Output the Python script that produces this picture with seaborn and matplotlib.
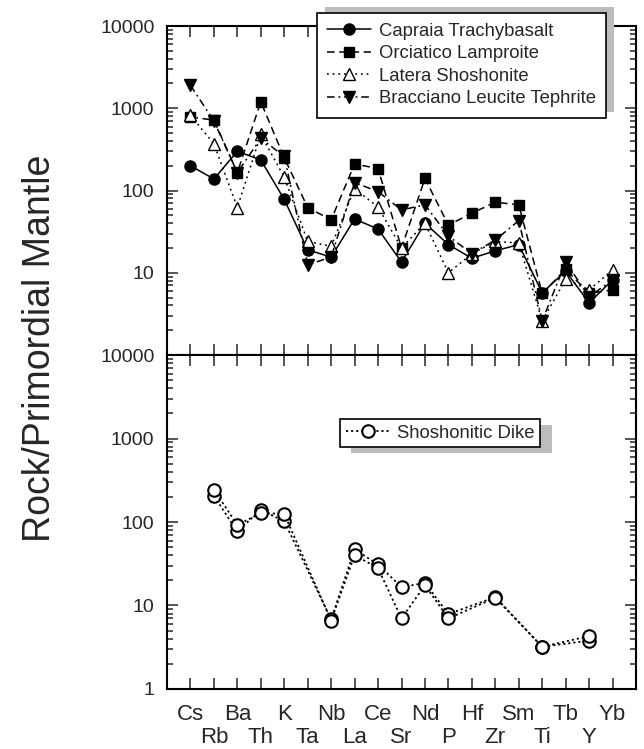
import numpy as np
import pandas as pd
import matplotlib
matplotlib.use('Agg')
import matplotlib.pyplot as plt
from matplotlib.patches import Rectangle
from matplotlib.ticker import FixedLocator, LogLocator, NullFormatter
import seaborn as sns

# element order along the x axis
elements = ['Cs', 'Rb', 'Ba', 'Th', 'K', 'Ta', 'Nb', 'La', 'Ce', 'Sr',
            'Nd', 'P', 'Hf', 'Zr', 'Sm', 'Ti', 'Tb', 'Y', 'Yb']

# top panel, values
capraia = [200, 138, 300, 235, 78, 19, 15.5, 45, 34, 13.5,
           40, 22, 15, 18.5, 22, 5.7, 10.5, 4.3, 8.2]
orciatico = [780, 720, 165, 1200, 250, 62, 44, 210, 185, 20,
             140, 38, 53, 72, 67, 5.6, 11, 5.6, 6.2]
latera = [820, 370, 62, 480, 145, 24, 21, 105, 63, 20,
          40, 10, 17, 24, 23, 2.6, 8.3, 6.2, 10.8]
bracciano = [1900, 700, 165, 430, 260, 12.5, 15.5, 125, 97, 58,
             67, 28, 17, 25, 43, 2.6, 13.5, 5.1, 8.2]

# bottom panel, two dike samples (nan = not analysed)
nan = np.nan
dike_a = [nan, 205, 77, 140, 102, nan, 6.8, 47, 31, 16.6,
          18.6, 7.9, nan, 12.6, nan, 3.2, nan, 3.8, nan]
dike_b = [nan, 245, 92, 128, 125, nan, 6.6, 40, 28, 7.0,
          17.5, 7.0, nan, 12.4, nan, 3.2, nan, 4.3, nan]

sns.set_style('ticks')
plt.rcParams['font.family'] = ['Liberation Sans', 'DejaVu Sans']

fig = plt.figure(figsize=(6.44, 7.49), dpi=100)
ax1 = fig.add_axes([0.2593, 0.52603, 0.7283, 0.43925])
ax2 = fig.add_axes([0.2593, 0.08011, 0.7283, 0.44592])

pos = np.arange(len(elements))


def draw(ax, vals, label, marker, ls, face, ms=8, mew=1.0, lw=1.1):
    d = pd.DataFrame({'x': pos, 'y': vals}).dropna()
    sns.lineplot(data=d, x='x', y='y', ax=ax, color='black', linestyle=ls,
                 marker=marker, markersize=ms, markerfacecolor=face,
                 markeredgecolor='black', markeredgewidth=mew, linewidth=lw,
                 label=label, sort=False, zorder=3)


draw(ax1, capraia, 'Capraia Trachybasalt', 'o', '-', 'black')
draw(ax1, orciatico, 'Orciatico Lamproite', 's', (0, (5, 3)), 'black', ms=7.5)
draw(ax1, latera, 'Latera Shoshonite', '^', (0, (1.2, 2.5)), 'white', ms=8.5)
draw(ax1, bracciano, 'Bracciano Leucite Tephrite', 'v', (0, (5, 2.5, 1.2, 2.5)), 'black', ms=8.5)

draw(ax2, dike_a, 'Shoshonitic Dike', 'o', (0, (1.2, 1.6)), 'white', ms=9, mew=1.5, lw=1.3)
draw(ax2, dike_b, None, 'o', (0, (1.2, 1.6)), 'white', ms=9, mew=1.5, lw=1.3)

for ax in (ax1, ax2):
    ax.set_yscale('log')
    ax.set_ylim(1, 10000)
    ax.set_xlim(-1, len(elements))
    ax.yaxis.set_major_locator(FixedLocator([1, 10, 100, 1000, 10000]))
    ax.yaxis.set_minor_locator(LogLocator(base=10, subs=np.arange(2, 10)))
    ax.yaxis.set_minor_formatter(NullFormatter())
    ax.tick_params(which='both', direction='in', top=True, right=True, width=1.1)
    ax.tick_params(which='major', length=8)
    ax.tick_params(axis='y', which='minor', length=4)
    ax.tick_params(axis='y', labelsize=14, pad=9)
    ax.set_xlabel('')
    ax.set_ylabel('')
    for s in ax.spines.values():
        s.set_linewidth(1.5)
        s.set_color('black')

ax1.set_yticklabels(['', '10', '100', '1000', '10000'])
ax2.set_yticklabels(['1', '10', '100', '1000', '10000'])

ax1.set_xticks(pos)
ax1.set_xticklabels([])

# two staggered rows of element names: even ones on major ticks, odd ones on minor
ax2.set_xticks(pos[::2])
ax2.set_xticklabels(elements[::2])
ax2.set_xticks(pos[1::2], minor=True)
ax2.set_xticklabels(elements[1::2], minor=True)
ax2.tick_params(axis='x', which='major', labelsize=16, pad=10.5)
ax2.tick_params(axis='x', which='minor', labelsize=16, pad=27.5, length=8, width=1.1)

fig.text(0.062, 0.535, 'Rock/Primordial Mantle', rotation=90, fontsize=27,
         ha='center', va='center')

leg1 = ax1.legend(loc='upper left', bbox_to_anchor=(316.7 / 644, 1 - 12.7 / 749),
                  bbox_transform=fig.transFigure, fontsize=13.3, frameon=True,
                  fancybox=False, handlelength=2.4, handletextpad=0.4,
                  labelspacing=0.3, borderpad=0.55, borderaxespad=0)
leg2 = ax2.legend(loc='upper left', bbox_to_anchor=(340 / 644, 1 - 419.3 / 749),
                  bbox_transform=fig.transFigure, fontsize=13.3, frameon=True,
                  fancybox=False, handlelength=2.4, handletextpad=0.4,
                  borderpad=0.3, borderaxespad=0)
for leg in (leg1, leg2):
    f = leg.get_frame()
    f.set_edgecolor('black')
    f.set_linewidth(1.2)
    f.set_facecolor('white')
    f.set_alpha(1)
    leg.set_zorder(6)

# grey drop shadows behind the legend boxes
fig.canvas.draw()
inv = fig.transFigure.inverted()
for ax, leg, (dx, dy) in ((ax1, leg1, (8.5, 6)), (ax2, leg2, (11.5, -5.7))):
    bb = leg.get_frame().get_window_extent()
    (x0, y0), (x1, y1) = inv.transform([[bb.x0 + dx, bb.y0 + dy], [bb.x1 + dx, bb.y1 + dy]])
    ax.add_patch(Rectangle((x0, y0), x1 - x0, y1 - y0, transform=fig.transFigure,
                           facecolor='#bdbdbd', edgecolor='none', clip_on=False, zorder=5))

fig.savefig('out.png', dpi=100)
